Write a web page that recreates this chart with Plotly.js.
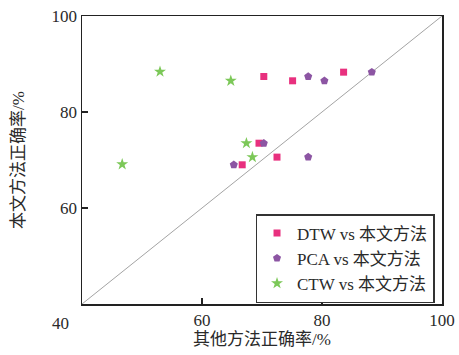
<!DOCTYPE html>
<html><head><meta charset="utf-8">
<script src="https://cdn.plot.ly/plotly-3.0.1.min.js"></script>
<style>html,body{margin:0;padding:0;background:#fff}#c{width:459px;height:355px}</style>
</head><body><div id="c"></div>
<script>
const dtwX = [70.3, 75.1, 83.6, 69.5, 72.5, 66.7];
const dtwY = [87.4, 86.5, 88.3, 73.5, 70.6, 69.0];
const pcaX = [77.7, 80.4, 88.3, 70.3, 77.7, 65.3];
const pcaY = [87.4, 86.5, 88.3, 73.5, 70.6, 69.0];
const ctwX = [53.0, 64.8, 67.4, 68.4, 46.7];
const ctwY = [88.4, 86.5, 73.5, 70.6, 69.1];
const diagX = [40, 100];
const diagY = [40, 100];
const names = ['DTW vs 本文方法', 'PCA vs 本文方法', 'CTW vs 本文方法'];
const xTitle = '其他方法正确率/%';
const yTitle = '本文方法正确率/%';

const FONT = '"Liberation Serif", "Times New Roman", "Noto Sans CJK SC", serif';
const TXT = '#2a2a2a';
const traces = [
  {x: diagX, y: diagY, mode: 'lines', line: {color: '#8c8c8c', width: 0.8}, showlegend: false, hoverinfo: 'skip'},
  {x: dtwX, y: dtwY, mode: 'markers', name: names[0], marker: {symbol: 'square', size: 7, color: '#e8307e'}},
  {x: pcaX, y: pcaY, mode: 'markers', name: names[1], marker: {symbol: 'pentagon', size: 8.5, color: '#8c55a3'}},
  {x: ctwX, y: ctwY, mode: 'markers', name: names[2], marker: {symbol: 'star', size: 9, color: '#7cc858'}}
];
const axBase = {
  showgrid: false, zeroline: false, showline: true, linecolor: '#222', linewidth: 1.5,
  mirror: true, ticks: 'inside', ticklen: 6, tickwidth: 1.5, tickcolor: '#222',
  tickfont: {family: FONT, size: 17, color: TXT}
};
const layout = {
  width: 459, height: 355,
  margin: {l: 82, r: 17, t: 16, b: 51},
  paper_bgcolor: '#fff', plot_bgcolor: '#fff',
  font: {family: FONT, color: TXT},
  xaxis: Object.assign({}, axBase, {range: [40, 100], tickvals: [60, 80, 100],
    title: {text: xTitle, font: {family: FONT, size: 17, color: TXT}, standoff: 4}}),
  yaxis: Object.assign({}, axBase, {range: [40, 100], tickvals: [60, 80, 100],
    title: {text: yTitle, font: {family: FONT, size: 17, color: TXT}, standoff: 22}}),
  legend: {x: 0.482, y: 0.3125, xanchor: 'left', yanchor: 'top', bordercolor: '#333', borderwidth: 1.5,
    bgcolor: '#fff', font: {family: FONT, size: 17, color: TXT}, itemwidth: 30, tracegroupgap: 0},
  annotations: [{text: '40', x: -0.06, y: -0.066, xref: 'paper', yref: 'paper', xanchor: 'center', yanchor: 'middle',
    showarrow: false, font: {family: FONT, size: 17, color: TXT}}],
  showlegend: true
};
Plotly.newPlot('c', traces, layout, {displayModeBar: false, staticPlot: true});
</script></body></html>
